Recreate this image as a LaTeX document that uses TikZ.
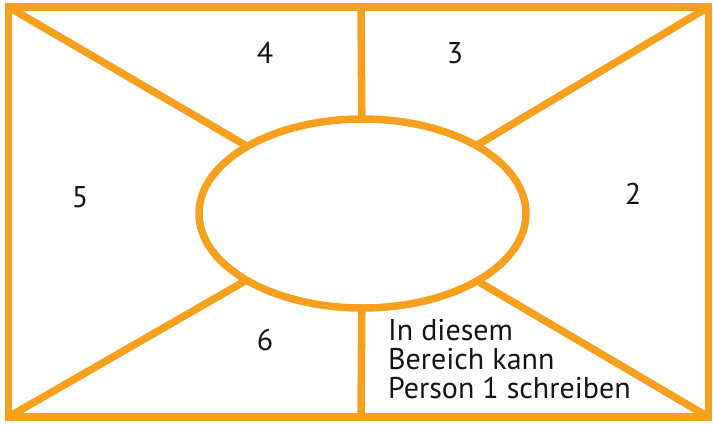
\documentclass[tikz,border=0pt]{standalone}
\usepackage{fontspec}
\setmainfont{PT Sans}
\usetikzlibrary{shapes.geometric}
\begin{document}
\begin{tikzpicture}[x=1pt,y=-1pt,
  frame/.style={draw=orng,line width=7.5pt},
  lbl/.style={font=\fontsize{30}{29}\selectfont,text=black!92,inner sep=0pt}]
\definecolor{orng}{RGB}{247,160,30}
\useasboundingbox (0,0) rectangle (713,424);
\coordinate (tl) at (8.5,7);
\coordinate (tr) at (708.5,7);
\coordinate (bl) at (8.5,417);
\coordinate (br) at (708.5,417);
\coordinate (c) at (362.5,213.5);
\coordinate (top) at (361,7);
\coordinate (bot) at (361,417);
\draw[frame] (tl) -- (c) (tr) -- (c) (bl) -- (c) (br) -- (c) (top) -- (c) (bot) -- (c);
\draw[frame] (tl) rectangle (br);
\node[frame,fill=white,ellipse,minimum width=327pt,minimum height=189pt,inner sep=0pt] (e) at (c) {};
\node[lbl] (n4) at (265,53) {4};
\node[lbl] (n3) at (455,53) {3};
\node[lbl] (n5) at (80,197) {5};
\node[lbl] (n2) at (633,193.5) {2};
\node[lbl] (n6) at (265,340) {6};
\node[lbl,anchor=base west] (t1) at (388,340) {In diesem};
\node[lbl,anchor=base west] (t2) at (388,369) {Bereich kann};
\node[lbl,anchor=base west] (t3) at (388,398) {Person {\addfontfeatures{Numbers=OldStyle}1} schreiben};
\end{tikzpicture}
\end{document}
